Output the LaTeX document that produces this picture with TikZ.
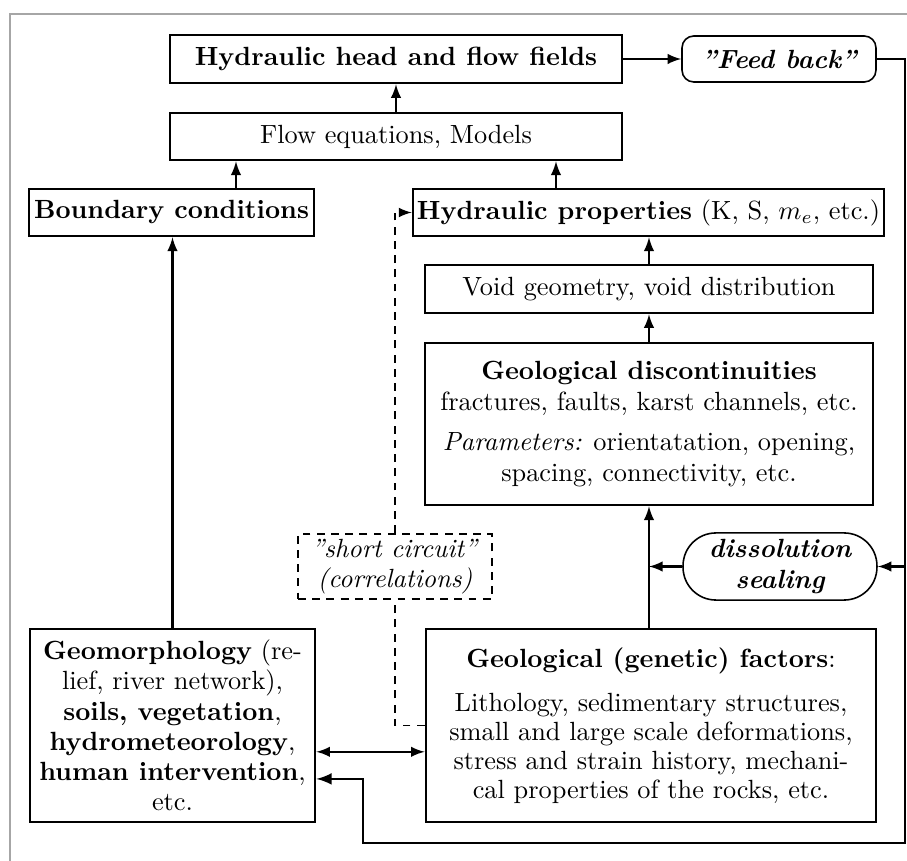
\documentclass[tikz,border=0pt]{standalone}
\usetikzlibrary{arrows,shapes.geometric,positioning}

\begin{document}
\begin{tikzpicture}[x=0.38pt, y=-0.38pt, >=latex,
                    box/.style = {draw, line width=1pt, inner sep=0pt, align=center,
                                  font=\fontsize{10pt}{11.5pt}\selectfont},
                    dims/.style 2 args = {minimum width=#1, minimum height=#2},
                    pill/.style = {box, line width=0.6pt, rounded corners=#1, font=\bfseries\itshape},
                    arr/.style = {->, line width=0.8pt},
                    dashline/.style = {dashed, dash pattern=on 3pt off 2.4pt, line width=0.7pt}]
\useasboundingbox (0,0) rectangle (907,861);
\draw[gray!70, line width=0.6pt] (10,861) -- (10,14) -- (907,14);

\node[box, dims={171.8pt}{18.2pt}] (head) at (396,59) {\textbf{Hydraulic head and flow fields}};
\node[pill=4.5pt, dims={73.7pt}{17.5pt}] (feed) at (779,59) {''Feed back''};
\node[box, dims={171.8pt}{17.9pt}] (flow) at (396,136.5) {Flow equations, Models};
\node[box, dims={108.3pt}{17.9pt}] (bound) at (171.5,212.5) {\textbf{Boundary conditions}};
\node[box, dims={179pt}{17.9pt}] (hprop) at (648.5,212.5) {\textbf{Hydraulic properties} (K, S, $m_e$, etc.)};
\node[box, dims={170.2pt}{18.2pt}] (void) at (649,289) {Void geometry, void distribution};
\node[box, dims={170.2pt}{61.6pt}] (disc) at (649,424) {\textbf{Geological discontinuities}\\
    fractures, faults, karst channels, etc.\\[4pt]
    \textit{Parameters:} orientatation, opening,\\
    spacing, connectivity, etc.};
\node[box, dashline, dims={73.7pt}{24.7pt}] (short) at (395,566.5) {\textit{''short circuit''}\\ \textit{(correlations)}};
\node[pill=12.5pt, dims={73.7pt}{25.5pt}, font=\fontsize{10pt}{11.5pt}\selectfont\bfseries\itshape] (diss) at (780,566.5) {dissolution\\ sealing};
\node[box, dims={108.3pt}{73.3pt}] (geo) at (172.5,725.5) {\textbf{Geomorphology} (re-\\
    lief, river network),\\
    \textbf{soils, vegetation},\\
    \textbf{hydrometeorology},\\
    \textbf{human intervention},\\
    etc.};
\node[box, dims={171pt}{73.3pt}, font=\fontsize{10pt}{11pt}\selectfont] (fact) at (651,725.5) {\textbf{Geological (genetic) factors}:\\[6pt]
    Lithology, sedimentary structures,\\
    small and large scale deformations,\\
    stress and strain history, mechani-\\
    cal properties of the rocks, etc.};

\coordinate (rb) at (905,843);
\coordinate (lb) at (363,843);
\coordinate (bx) at (236,0);
\coordinate (hx) at (556,0);

\draw[arr] (flow.north) -- (head.south);
\draw[arr] (head.east) -- (feed.west);
\draw[arr] (bound.north -| bx) -- (flow.south -| bx);
\draw[arr] (hprop.north -| hx) -- (flow.south -| hx);
\draw[arr] (void.north) -- (void.north |- hprop.south);
\draw[arr] (disc.north) -- (disc.north |- void.south);
\draw[arr] (geo.north) -- (geo.north |- bound.south);
\draw[arr] (disc.south |- fact.north) -- (disc.south);
\draw[arr] (diss.west) -- (diss.west -| disc.south);
\draw[arr] (diss.east -| rb) -- (diss.east);
\draw[arr, line width=1pt] (feed.east) -| (rb) -- (lb) |- ([yshift=-20.3pt]geo.east);
\draw[<->, line width=0.8pt] ([yshift=-10pt]geo.east) -- ([yshift=-10pt]fact.west);
\draw[dashline] (fact.west) -| (short.south);
\draw[dashline, ->] (short.north) |- (hprop.west);
\end{tikzpicture}
\end{document}
